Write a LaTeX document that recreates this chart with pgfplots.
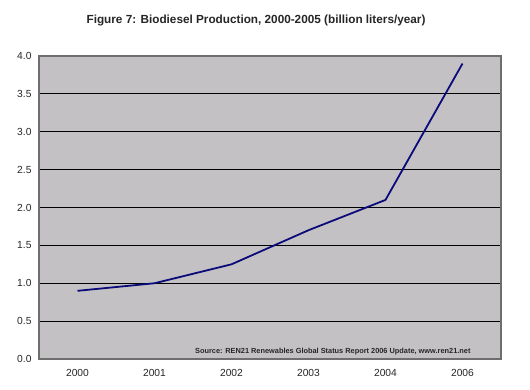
\documentclass[border=0pt]{standalone}
\usepackage{pgfplots}
\pgfplotsset{compat=1.18}
\usepackage{fontspec}
\setmainfont{Liberation Sans}
\definecolor{plotgray}{RGB}{195,193,196}
\definecolor{navyline}{RGB}{10,10,120}
\definecolor{bordergray}{RGB}{110,110,110}
\begin{document}
\begin{tikzpicture}
\path[use as bounding box] (0,0) rectangle (530bp,390bp);
\begin{axis}[
  at={(39bp,31bp)}, anchor=south west,
  scale only axis, width=462bp, height=303bp,
  xmin=-0.5, xmax=5.5, ymin=0, ymax=4,
  xtick={0,1,2,3,4,5},
  xticklabels={2000,2001,2002,2003,2004,2006},
  ytick={0,0.5,1,1.5,2,2.5,3,3.5,4},
  /pgf/number format/assume math mode=true,
  /pgf/number format/fixed,
  /pgf/number format/fixed zerofill,
  /pgf/number format/precision=1,
  ymajorgrids,
  grid style={black, line width=0.9pt},
  axis background/.style={fill=plotgray},
  axis line style={draw=bordergray, line width=1.1pt},
  tick style={draw=none},
  ticklabel style={font=\fontsize{10.3}{12}\selectfont, text=black!85},
  xticklabel style={yshift=-7bp},
  yticklabel style={xshift=-4bp},
]
\addplot[navyline, line width=1.8pt] coordinates {
  (0,0.9) (1,1.0) (2,1.25) (3,1.7) (4,2.1) (5,3.9)
};
\end{axis}
\node[font=\bfseries\fontsize{11.8}{14}\selectfont, text=black!85] at (256bp,370bp)
  {Figure 7: Biodiesel Production, 2000-2005 (billion liters/year)};
\node[anchor=east, font=\bfseries\fontsize{7.4}{8}\selectfont, text=black!85] at (474bp,38bp)
  {Source: REN21 Renewables Global Status Report 2006 Update, www.ren21.net};
\end{tikzpicture}
\end{document}
